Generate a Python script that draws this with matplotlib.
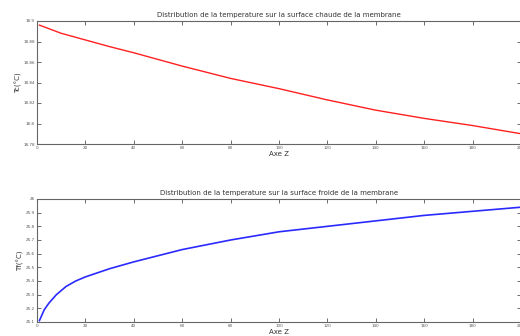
import matplotlib
matplotlib.use("Agg")
import matplotlib.pyplot as plt

# Hot surface temperature
z_hot = [1, 10, 20, 30, 40, 60, 80, 100, 120, 140, 160, 180, 200]
t_hot = [18.896, 18.888, 18.8815, 18.875, 18.869, 18.856, 18.844, 18.834, 18.823, 18.813, 18.805, 18.798, 18.790]

# Cold surface temperature
z_cold = [1, 2, 3, 5, 8, 12, 16, 20, 30, 40, 60, 80, 100, 120, 140, 160, 180, 200]
t_cold = [25.11, 25.15, 25.19, 25.24, 25.30, 25.36, 25.40, 25.43, 25.49, 25.54,
          25.63, 25.70, 25.76, 25.80, 25.84, 25.88, 25.91, 25.94]

x_ticks = [0, 20, 40, 60, 80, 100, 120, 140, 160, 180, 200]
x_ticklabels = ["0", "20", "40", "60", "80", "100", "120", "140", "160", "180", "200"]
y_hot_ticks = [18.78, 18.80, 18.82, 18.84, 18.86, 18.88, 18.90]
y_hot_labels = ["18.78", "18.8", "18.82", "18.84", "18.86", "18.88", "18.9"]
y_cold_ticks = [25.1, 25.2, 25.3, 25.4, 25.5, 25.6, 25.7, 25.8, 25.9, 26.0]
y_cold_labels = ["25.1", "25.2", "25.3", "25.4", "25.5", "25.6", "25.7", "25.8", "25.9", "26"]

title_hot = "Distribution de la temperature sur la surface chaude de la membrane"
title_cold = "Distribution de la temperature sur la surface froide de la membrane"

fig = plt.figure(figsize=(5.2, 3.36), dpi=100)
W, H = 520, 336
left = 37 / W
width = (521 - 37) / W
ax1 = fig.add_axes([left, 1 - 144 / H, width, 123 / H])
ax2 = fig.add_axes([left, 1 - 322 / H, width, 123 / H])

grey = "#555555"

def style(ax, yt, yl, ylim, title, ylabel):
    ax.set_xlim(0, 200)
    ax.set_ylim(*ylim)
    ax.set_xticks(x_ticks)
    ax.set_xticklabels(x_ticklabels)
    ax.set_yticks(yt)
    ax.set_yticklabels(yl)
    ax.tick_params(direction="in", top=True, right=True, length=3, width=0.6,
                   labelsize=3, colors=grey, pad=1.5)
    for s in ax.spines.values():
        s.set_color("#666666")
        s.set_linewidth(0.8)
    ax.set_title(title, fontsize=5, color="#333333", pad=3)
    ax.set_xlabel("Axe Z", fontsize=5, color="#333333", labelpad=1)
    ax.set_ylabel(ylabel, fontsize=5, color="#333333", labelpad=1)

ax1.plot(z_hot, t_hot, color="#ff2020", lw=1.0)
style(ax1, y_hot_ticks, y_hot_labels, (18.78, 18.90), title_hot, "Tc(°C)")

ax2.plot(z_cold, t_cold, color="#2a2aff", lw=1.2)
style(ax2, y_cold_ticks, y_cold_labels, (25.1, 26.0), title_cold, "Tf(°C)")

fig.savefig("out.png", dpi=100)
